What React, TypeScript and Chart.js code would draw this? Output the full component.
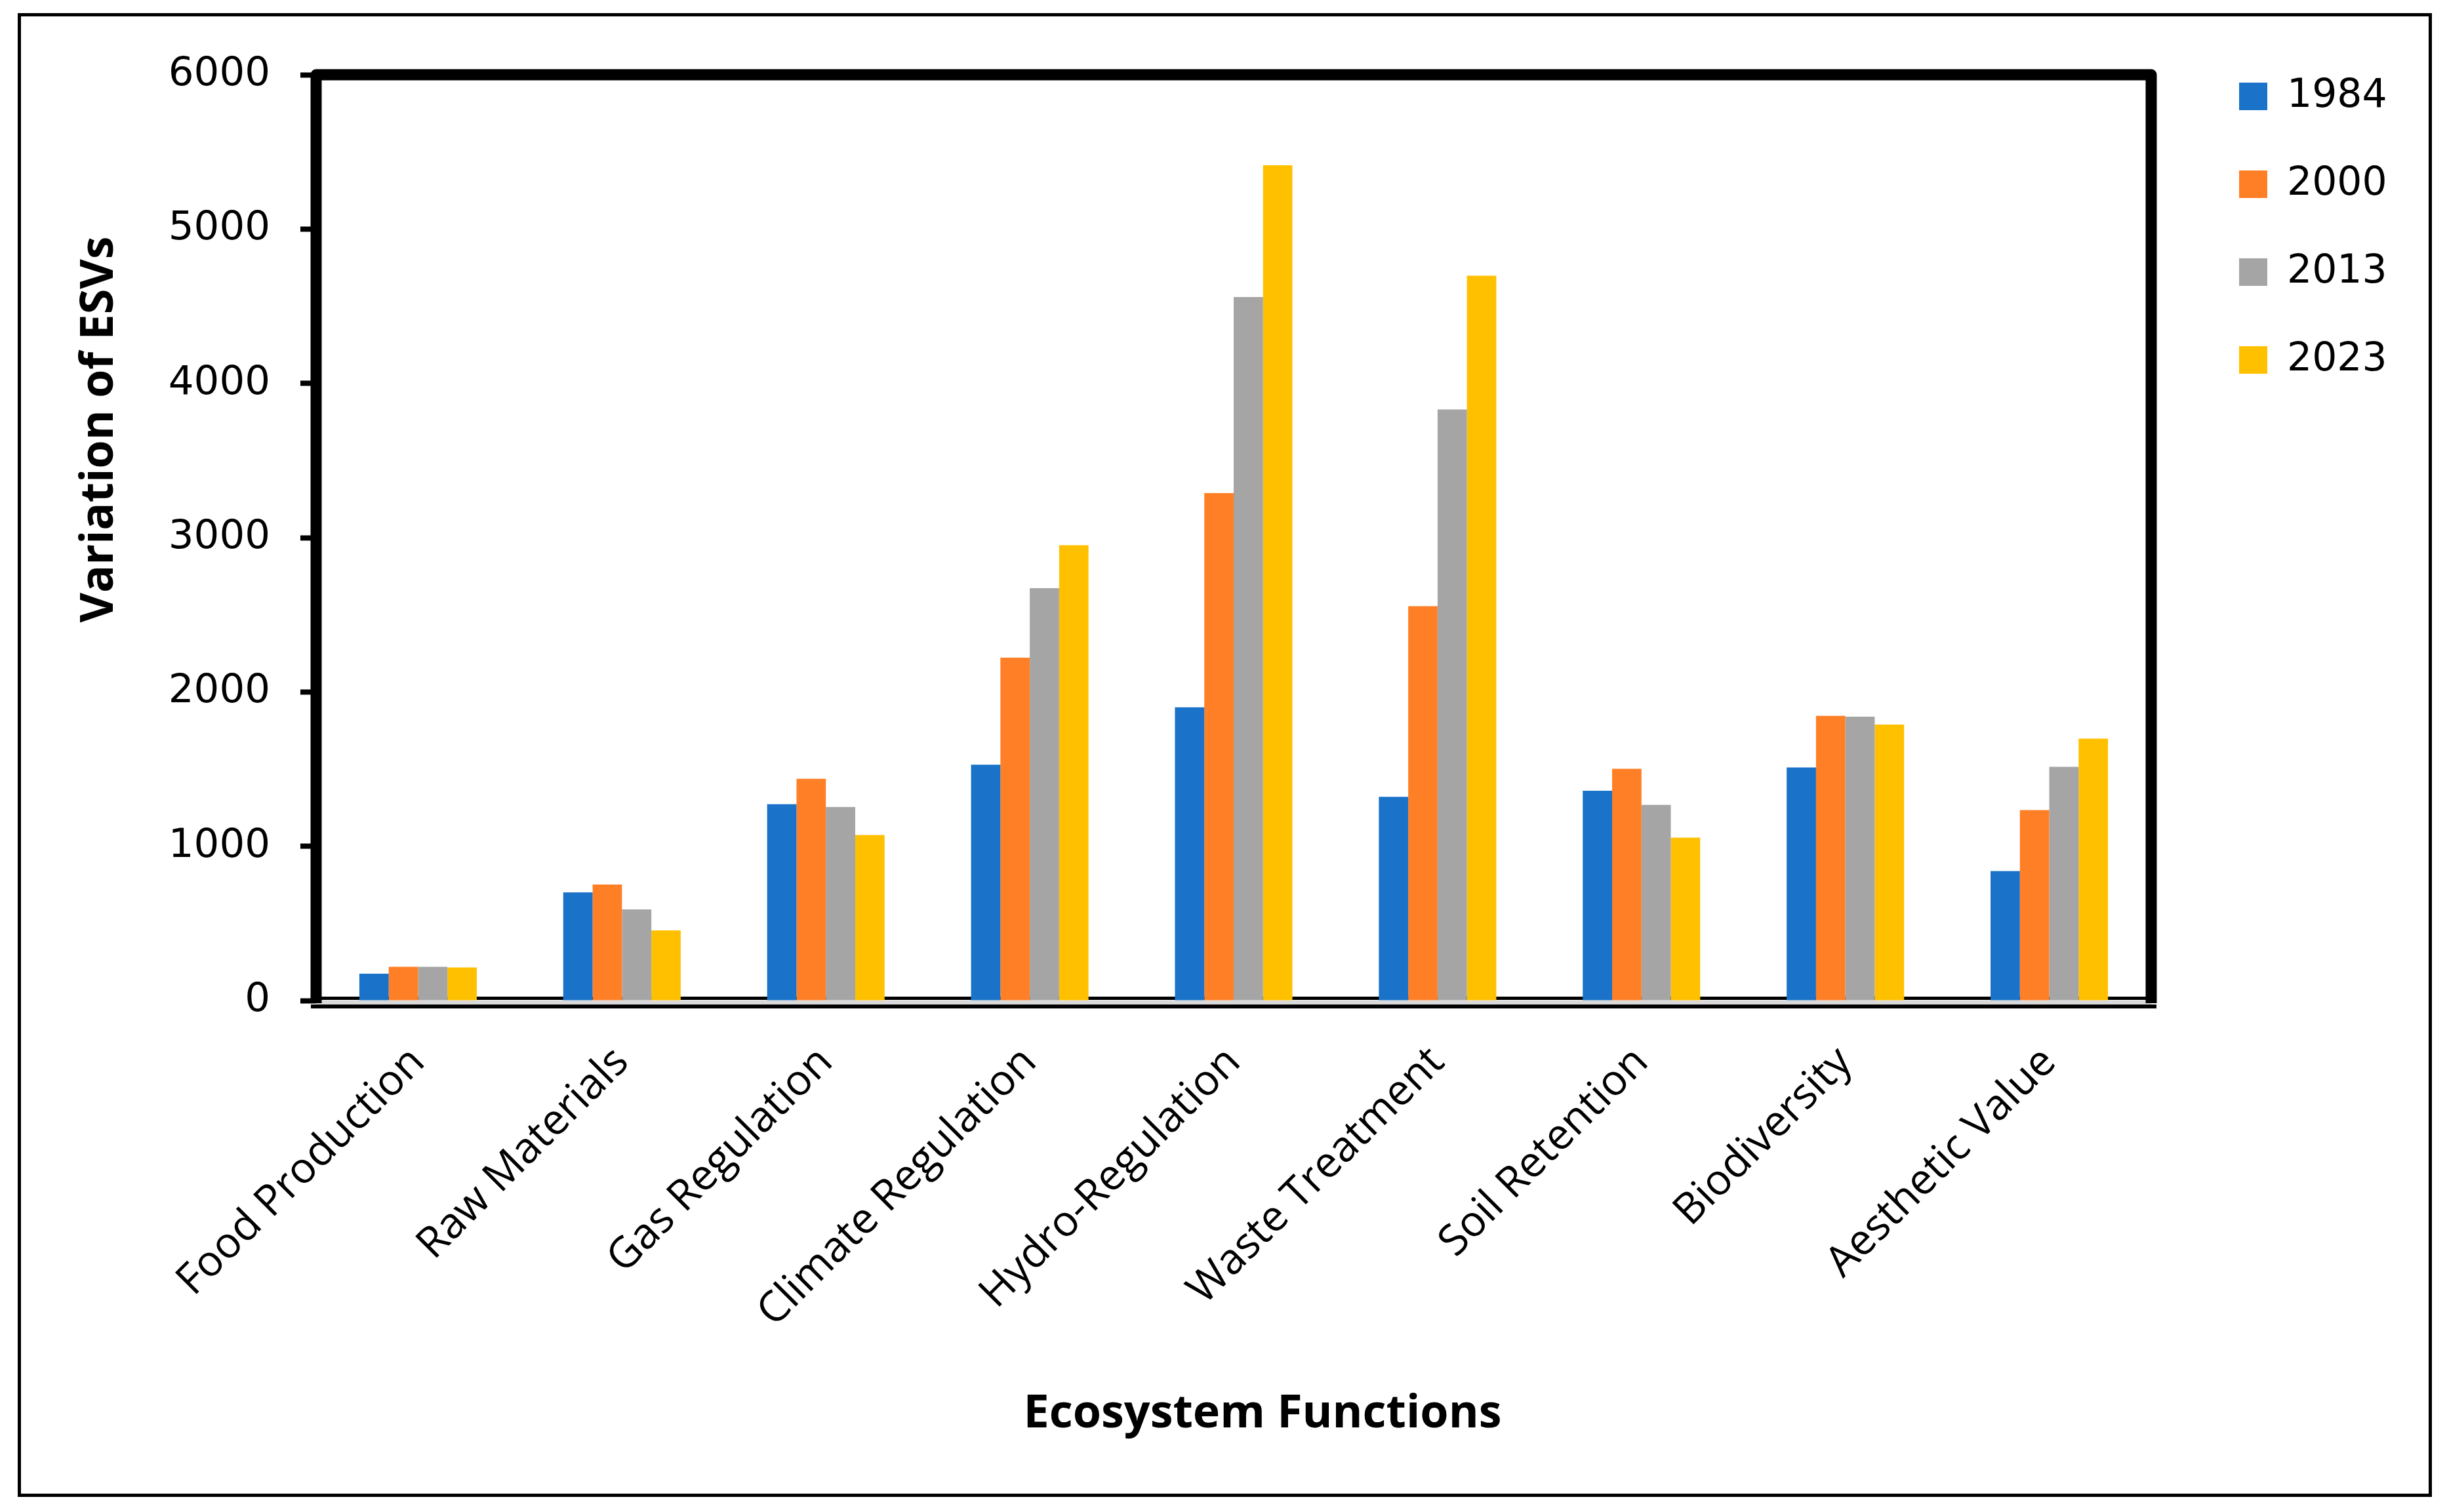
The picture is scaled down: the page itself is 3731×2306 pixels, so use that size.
import React, { useEffect, useRef } from 'react';
import { Chart, registerables } from 'chart.js';

Chart.register(...registerables);

// ---- data ----
const categories = [
  'Food Production',
  'Raw Materials',
  'Gas Regulation',
  'Climate Regulation',
  'Hydro-Regulation',
  'Waste Treatment',
  'Soil Retention',
  'Biodiversity',
  'Aesthetic Value',
];
const seriesNames = ['1984', '2000', '2013', '2023'];
const values1984 = [174, 701, 1273, 1529, 1901, 1320, 1360, 1511, 839];
const values2000 = [219, 752, 1437, 2222, 3289, 2556, 1502, 1845, 1234];
const values2013 = [219, 591, 1255, 2673, 4560, 3831, 1268, 1840, 1515];
const values2023 = [215, 455, 1073, 2951, 5414, 4698, 1056, 1789, 1698];
const seriesColors = ['#1A73C8', '#FF7F27', '#A5A5A5', '#FFC000'];
const yMin = 0;
const yMax = 6000;
const yStep = 1000;
const yTitle = 'Variation of ESVs';
const xTitle = 'Ecosystem Functions';

// ---- layout / style ----
const W = 3731;
const H = 2306;
const FONT = '"Open Sans", "DejaVu Sans", sans-serif';
const NUM_FONT = '"DejaVu Sans", "Open Sans", sans-serif';
const PLOT_LEFT = 482;
const PLOT_TOP = 114;
const PLOT_RIGHT = 3280;
const PLOT_BOTTOM_SPACE = 780;
const LEGEND_FONT_SIZE = 60;
const LEGEND_BOX_W = 43;
const LEGEND_BOX_H = 42;
const LEGEND_PAD = 74;
const LEGEND_LEFT = 3340;
const LEGEND_TOP = 43;

const bgAndOuterFrame = {
  id: 'bgAndOuterFrame',
  beforeDraw(chart: any) {
    const { ctx } = chart;
    ctx.save();
    ctx.fillStyle = '#ffffff';
    ctx.fillRect(0, 0, chart.width, chart.height);
    ctx.strokeStyle = '#000000';
    ctx.lineWidth = 5;
    ctx.strokeRect(29.5, 22.5, 3676, 2258);
    ctx.restore();
  },
};

const plotFrame = {
  id: 'plotFrame',
  beforeDatasetsDraw(chart: any) {
    const { ctx, chartArea: a } = chart;
    ctx.save();
    ctx.fillStyle = '#000000';
    ctx.fillRect(a.left, a.bottom - 6, a.right - a.left, 5);
    ctx.restore();
  },
  afterDatasetsDraw(chart: any) {
    const { ctx, chartArea: a } = chart;
    ctx.save();
    ctx.fillStyle = '#D9D9D9';
    ctx.fillRect(a.left, a.bottom, a.right - a.left, 6);
    ctx.fillStyle = '#000000';
    ctx.fillRect(a.left - 8, a.bottom + 6, a.right - a.left + 16, 6);
    ctx.strokeStyle = '#000000';
    ctx.lineWidth = 17;
    ctx.lineJoin = 'round';
    ctx.beginPath();
    ctx.moveTo(a.left, a.bottom + 4);
    ctx.lineTo(a.left, a.top);
    ctx.lineTo(a.right, a.top);
    ctx.lineTo(a.right, a.bottom + 4);
    ctx.stroke();
    ctx.restore();
  },
  afterDraw(chart: any) {
    const { ctx, chartArea: a } = chart;
    ctx.save();
    ctx.fillStyle = '#000000';
    ctx.font = `bold 70px ${FONT}`;
    ctx.textAlign = 'center';
    ctx.textBaseline = 'middle';
    ctx.translate(a.left - 330, a.top + 541);
    ctx.rotate(-Math.PI / 2);
    ctx.fillText(yTitle, 0, 0);
    ctx.restore();
    ctx.save();
    ctx.fillStyle = '#000000';
    ctx.font = `bold 70px ${FONT}`;
    ctx.textAlign = 'center';
    ctx.textBaseline = 'middle';
    ctx.fillText(xTitle, (a.left + a.right) / 2 + 44, a.bottom + 631);
    ctx.restore();
  },
};

const legendPlacer = {
  id: 'legendPlacer',
  afterLayout(chart: any) {
    const lg = chart.legend;
    if (!lg) return;
    const dx = LEGEND_LEFT - lg.left;
    const dy = LEGEND_TOP - lg.top;
    lg.left += dx;
    lg.right += dx;
    lg.top += dy;
    lg.bottom += dy;
  },
};

export default function App() {
  const canvasRef = useRef<HTMLCanvasElement | null>(null);

  useEffect(() => {
    const canvas = canvasRef.current;
    if (!canvas) return;
    const allValues = [values1984, values2000, values2013, values2023];

    // width the legend will take so that the plot area ends where it should
    const mctx = document.createElement('canvas').getContext('2d') as CanvasRenderingContext2D;
    mctx.font = `${LEGEND_FONT_SIZE}px ${NUM_FONT}`;
    const textW = Math.max(...seriesNames.map((s) => mctx.measureText(s).width));
    const legendW = LEGEND_PAD + LEGEND_BOX_W + LEGEND_FONT_SIZE / 2 + textW + 10;
    const padRight = Math.max(0, W - PLOT_RIGHT - legendW);

    const chart = new Chart(canvas, {
      type: 'bar',
      data: {
        labels: categories,
        datasets: seriesNames.map((name, i) => ({
          label: name,
          data: allValues[i],
          backgroundColor: seriesColors[i],
          borderWidth: 0,
          barPercentage: 1.0,
          categoryPercentage: 0.576,
        })),
      },
      options: {
        responsive: true,
        maintainAspectRatio: false,
        animation: false,
        devicePixelRatio: 1,
        layout: { padding: { left: 0, top: PLOT_TOP, right: padRight, bottom: 0 } },
        plugins: {
          tooltip: { enabled: false },
          title: { display: false },
          legend: {
            display: true,
            position: 'right',
            align: 'start',
            labels: {
              boxWidth: LEGEND_BOX_W,
              boxHeight: LEGEND_BOX_H,
              padding: LEGEND_PAD,
              color: '#000000',
              font: { family: NUM_FONT, size: LEGEND_FONT_SIZE },
            },
          },
        },
        scales: {
          x: {
            grid: { display: false },
            border: { display: false },
            ticks: {
              color: '#000000',
              font: { family: FONT, size: 65 },
              minRotation: 45,
              maxRotation: 45,
              autoSkip: false,
              padding: 48,
            },
            afterFit(axis: any) {
              axis.height = PLOT_BOTTOM_SPACE;
            },
          },
          y: {
            min: yMin,
            max: yMax,
            grid: {
              display: true,
              drawOnChartArea: false,
              drawTicks: true,
              tickLength: 24,
              tickWidth: 8,
              tickColor: '#000000',
            },
            border: { display: false },
            ticks: {
              stepSize: yStep,
              color: '#000000',
              font: { family: NUM_FONT, size: 61 },
              padding: 46,
              callback: (v: any) => String(v),
            },
            afterFit(axis: any) {
              axis.width = PLOT_LEFT;
            },
          },
        },
      },
      plugins: [bgAndOuterFrame, plotFrame, legendPlacer],
    });
    return () => chart.destroy();
  }, []);

  return (
    <div style={{ position: 'fixed', left: 0, top: 0, width: W, height: H, background: '#fff' }}>
      <canvas ref={canvasRef} />
    </div>
  );
}
